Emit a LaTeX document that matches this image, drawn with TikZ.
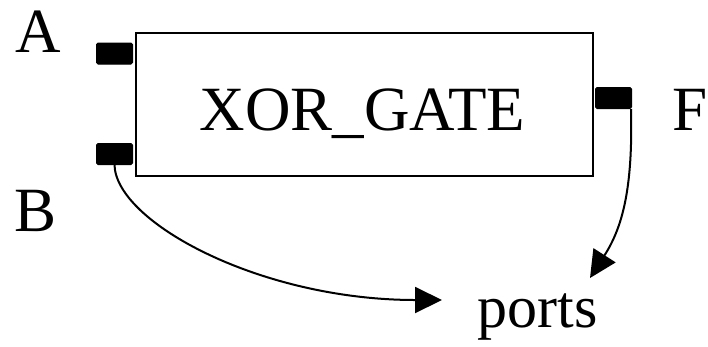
\documentclass[tikz,border=0pt]{standalone}
\usepackage{fontspec}
\setmainfont{Liberation Serif}
\usetikzlibrary{arrows.meta}
\begin{document}
\begin{tikzpicture}[x=1pt,y=-1pt,
  big/.style={font=\fontsize{63}{63}\selectfont, inner sep=0pt, anchor=base},
  portbox/.style={fill=black, draw=black, line width=1pt, rounded corners=1.5pt, minimum width=36pt, minimum height=21pt, inner sep=0pt},
  gate/.style={draw=black, line width=2pt, minimum width=457pt, minimum height=143pt, inner sep=0pt},
  conn/.style={line width=2pt, -{Triangle[length=27pt,width=26pt]}}]
\useasboundingbox (0,0) rectangle (708,346);
\node[gate] (g) at (364,104) {};
\node[portbox] (pa) at (114.5,53.5) {};
\node[portbox] (pb) at (114.5,154) {};
\node[portbox] (pf) at (613.5,98) {};
\node[big] (tg) at (362.5,130) {XOR\_GATE};
\node[big] (ta) at (38.5,52) {A};
\node[big] (tb) at (36,231) {B};
\node[big] (tf) at (690,130) {F};
\node[big, font=\fontsize{60}{60}\selectfont] (tp) at (537.5,327) {ports};
\coordinate (e1) at (442,300);
\coordinate (e2) at (590,278);
\coordinate (sf) at ([xshift=-1pt]pf.south east);
\draw[conn] (pb.south) .. controls (116,222) and (260,300) .. (e1);
\draw[conn] (sf) .. controls (633,190) and (622,228) .. (e2);
\end{tikzpicture}
\end{document}
